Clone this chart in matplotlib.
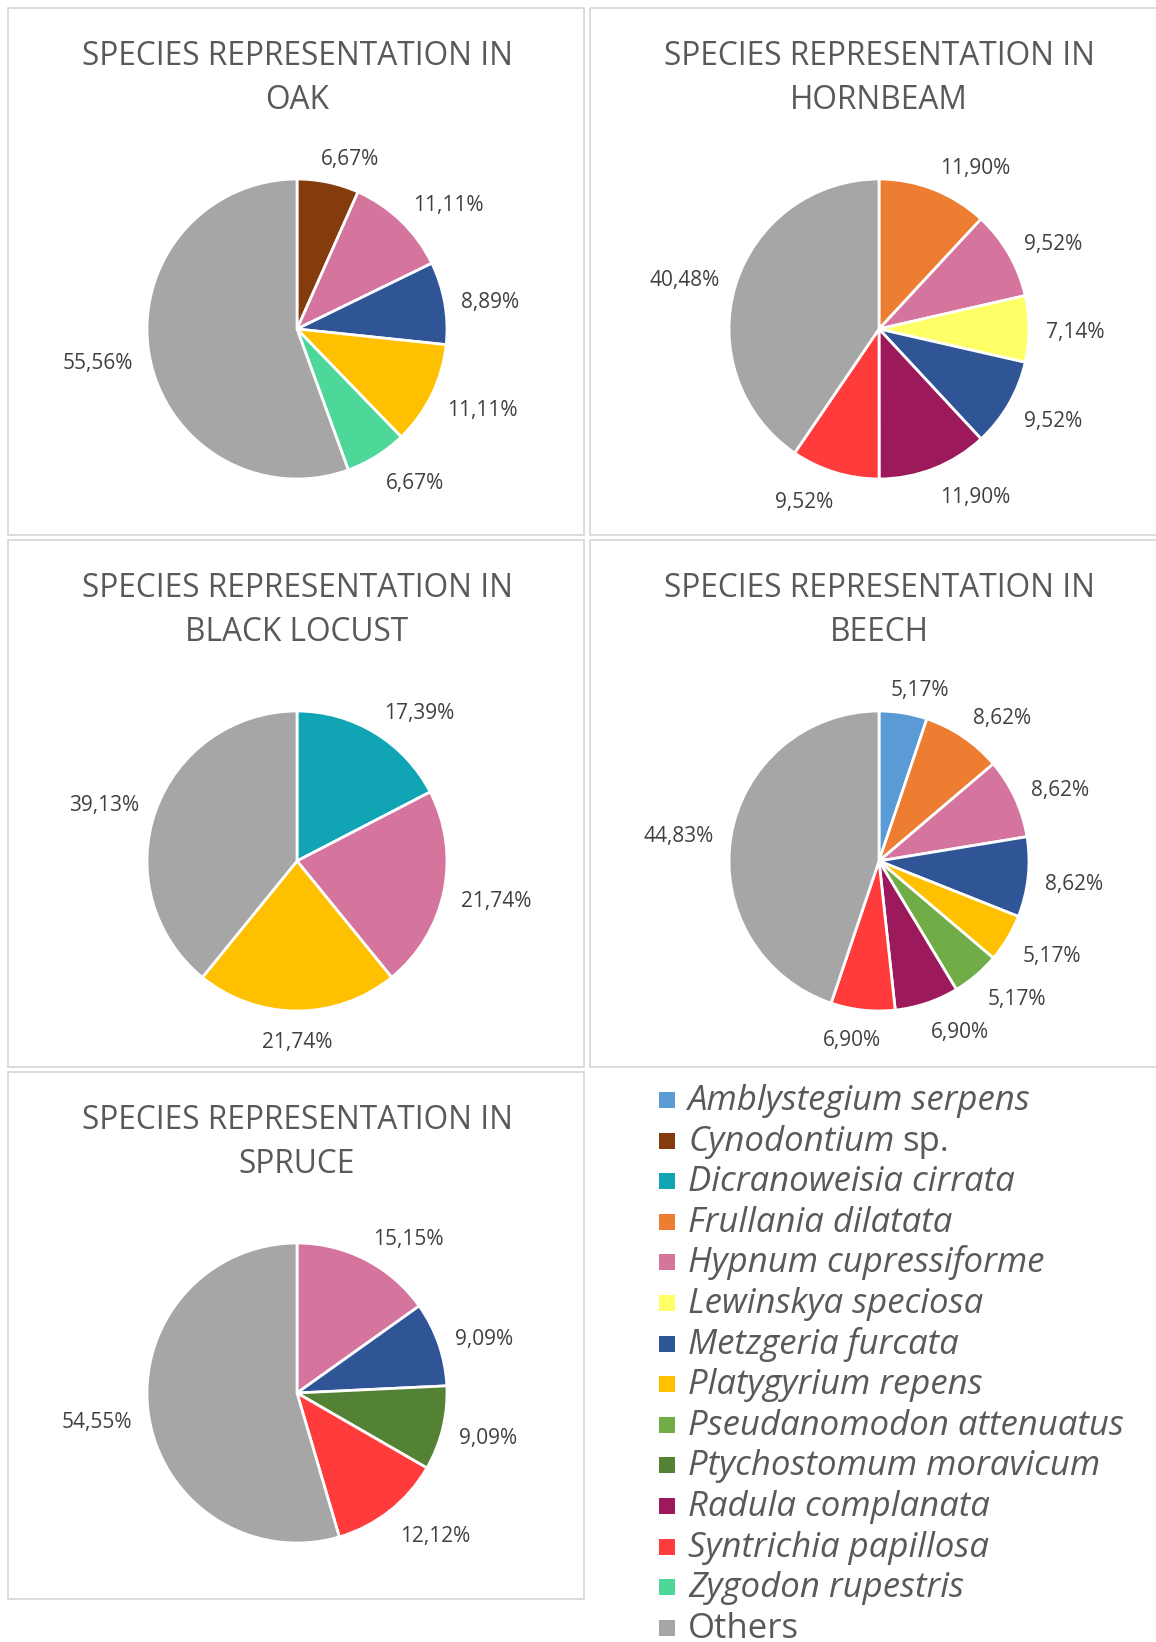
import numpy as np
import matplotlib
matplotlib.use('Agg')
import matplotlib.pyplot as plt
from matplotlib.patches import Rectangle

plt.rcParams['font.family'] = ['Open Sans', 'DejaVu Sans']

W, H = 1156, 1642

# legend order and colours
species = ['Amblystegium serpens', 'Cynodontium sp.', 'Dicranoweisia cirrata', 'Frullania dilatata',
           'Hypnum cupressiforme', 'Lewinskya speciosa', 'Metzgeria furcata', 'Platygyrium repens',
           'Pseudanomodon attenuatus', 'Ptychostomum moravicum', 'Radula complanata',
           'Syntrichia papillosa', 'Zygodon rupestris', 'Others']
colors = ['#5B9BD5', '#843C0C', '#10A4B5', '#ED7D31', '#D5759E', '#FFFF66', '#2F5597', '#FFC000',
          '#70AD47', '#548235', '#9C1A5C', '#FF3B3B', '#4DD799', '#A6A6A6']
color_of = dict(zip(species, colors))

# percentages per tree
oak_names = ['Cynodontium sp.', 'Hypnum cupressiforme', 'Metzgeria furcata', 'Platygyrium repens',
             'Zygodon rupestris', 'Others']
oak_values = [6.67, 11.11, 8.89, 11.11, 6.67, 55.56]

hornbeam_names = ['Frullania dilatata', 'Hypnum cupressiforme', 'Lewinskya speciosa', 'Metzgeria furcata',
                  'Radula complanata', 'Syntrichia papillosa', 'Others']
hornbeam_values = [11.90, 9.52, 7.14, 9.52, 11.90, 9.52, 40.48]

locust_names = ['Dicranoweisia cirrata', 'Hypnum cupressiforme', 'Platygyrium repens', 'Others']
locust_values = [17.39, 21.74, 21.74, 39.13]

beech_names = ['Amblystegium serpens', 'Frullania dilatata', 'Hypnum cupressiforme', 'Metzgeria furcata',
               'Platygyrium repens', 'Pseudanomodon attenuatus', 'Radula complanata',
               'Syntrichia papillosa', 'Others']
beech_values = [5.17, 8.62, 8.62, 8.62, 5.17, 5.17, 6.90, 6.90, 44.83]

spruce_names = ['Hypnum cupressiforme', 'Metzgeria furcata', 'Ptychostomum moravicum',
                'Syntrichia papillosa', 'Others']
spruce_values = [15.15, 9.09, 9.09, 12.12, 54.55]

trees = ['OAK', 'HORNBEAM', 'BLACK LOCUST', 'BEECH', 'SPRUCE']
tree_data = [(oak_names, oak_values), (hornbeam_names, hornbeam_values), (locust_names, locust_values),
             (beech_names, beech_values), (spruce_names, spruce_values)]

fig = plt.figure(figsize=(W / 100, H / 100), dpi=100)
renderer = fig.canvas.get_renderer()

# background axes in pixel coordinates (y down)
bg = fig.add_axes([0, 0, 1, 1])
bg.set_xlim(0, W)
bg.set_ylim(H, 0)
bg.axis('off')

col_x = [8, 590]
row_y = [8, 540, 1072]
panel_w, panel_h = 576, 527
R = 150
GAP = 17

for k, (tree, (names, values)) in enumerate(zip(trees, tree_data)):
    px, py = col_x[k % 2], row_y[k // 2]
    bg.add_patch(Rectangle((px, py), panel_w, panel_h, fill=False, edgecolor='#D9D9D9', linewidth=1.3))
    cx, cy = px + 289, py + 321

    bg.text(cx, py + 57, 'SPECIES REPRESENTATION IN', ha='center', va='baseline', fontsize=22.8, color='#595959')
    bg.text(cx, py + 101, tree, ha='center', va='baseline', fontsize=22.8, color='#595959')

    ax = fig.add_axes([(cx - R) / W, 1 - (cy + R) / H, 2 * R / W, 2 * R / H])
    wedges, _ = ax.pie(values, colors=[color_of[n] for n in names], startangle=90, counterclock=False,
                       radius=1, wedgeprops=dict(edgecolor='white', linewidth=2))
    ax.set_xlim(-1, 1)
    ax.set_ylim(-1, 1)
    ax.set_aspect('equal')
    ax.axis('off')

    # labels just outside the wedge, pushed sideways like excel's outside end
    for w, v in zip(wedges, values):
        th = np.deg2rad((w.theta1 + w.theta2) / 2)
        t = ax.text(0, 0, f'{v:.2f}%'.replace('.', ','), ha='center', va='center', fontsize=15, color='#404040')
        bw = t.get_window_extent(renderer).width
        c, s = np.cos(th), np.sin(th)
        lx = (R + GAP) * c + np.sign(c) * min(1, 3 * abs(c)) * bw / 2
        ly = (R + GAP) * s + s * 10 - 4
        t.set_position((lx / R, ly / R))

# legend
leg_x, leg_y0, leg_dy = 659, 1110, 40.6
for i, name in enumerate(species):
    yb = leg_y0 + i * leg_dy
    bg.add_patch(Rectangle((leg_x, yb - 18), 16, 16, facecolor=color_of[name], edgecolor='none'))
    tx = leg_x + 29
    if name == 'Others':
        bg.text(tx, yb, name, va='baseline', fontsize=25, color='#595959')
    elif name.endswith(' sp.'):
        t = bg.text(tx, yb, name[:-4], va='baseline', fontsize=25, color='#595959', style='italic')
        x1 = t.get_window_extent(renderer).x1
        bg.text(x1 + 8, yb, 'sp.', va='baseline', fontsize=25, color='#595959')
    else:
        bg.text(tx, yb, name, va='baseline', fontsize=25, color='#595959', style='italic')

fig.savefig('out.png', dpi=100)
